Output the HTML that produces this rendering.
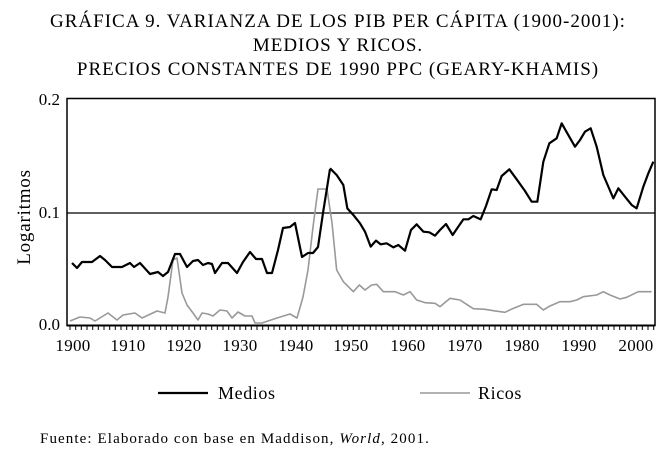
<!DOCTYPE html>
<html><head><meta charset="utf-8"><style>
body{margin:0;background:#fff;}
svg{display:block;font-family:"Liberation Serif",serif;}
</style></head><body>
<svg width="666" height="451" viewBox="0 0 666 451">
<g font-size="19" text-anchor="middle" letter-spacing="1">
<text x="338" y="27">GRÁFICA 9. VARIANZA DE LOS PIB PER CÁPITA (1900-2001):</text>
<text x="338" y="51">MEDIOS Y RICOS.</text>
<text x="338" y="75">PRECIOS CONSTANTES DE 1990 PPC (GEARY-KHAMIS)</text>
</g>
<text x="30" y="217" font-size="19" letter-spacing="0.8" text-anchor="middle" transform="rotate(-90 30 217)">Logaritmos</text>
<g font-size="17" text-anchor="end">
<text x="60" y="105">0.2</text>
<text x="60" y="218">0.1</text>
<text x="60" y="330">0.0</text>
</g>
<rect x="67" y="98.5" width="588" height="227" fill="none" stroke="#000" stroke-width="1.5"/>
<line x1="67" y1="213" x2="655" y2="213" stroke="#000" stroke-width="1.2"/>
<line x1="67" y1="325.5" x2="655" y2="325.5" stroke="#000" stroke-width="2"/>
<g stroke="#000" stroke-width="1">
<path d="M70 325v5M75.7 325v5M81.3 325v5M87 325v5M92.7 325v5M98.3 325v5M104 325v5M109.7 325v5M115.3 325v5M121 325v5M126.7 325v5M132.3 325v5M138 325v5M143.7 325v5M149.3 325v5M155 325v5M160.7 325v5M166.3 325v5M172 325v5M177.7 325v5M183.3 325v5M189 325v5M194.7 325v5M200.3 325v5M206 325v5M211.7 325v5M217.3 325v5M223 325v5M228.7 325v5M234.3 325v5M240 325v5M245.7 325v5M251.3 325v5M257 325v5M262.7 325v5M268.3 325v5M274 325v5M279.7 325v5M285.3 325v5M291 325v5M296.7 325v5M302.3 325v5M308 325v5M313.7 325v5M319.3 325v5M325 325v5M330.7 325v5M336.3 325v5M342 325v5M347.7 325v5M353.3 325v5M359 325v5M364.7 325v5M370.3 325v5M376 325v5M381.7 325v5M387.3 325v5M393 325v5M398.7 325v5M404.3 325v5M410 325v5M415.7 325v5M421.3 325v5M427 325v5M432.7 325v5M438.3 325v5M444 325v5M449.7 325v5M455.3 325v5M461 325v5M466.7 325v5M472.3 325v5M478 325v5M483.7 325v5M489.3 325v5M495 325v5M500.7 325v5M506.3 325v5M512 325v5M517.7 325v5M523.3 325v5M529 325v5M534.7 325v5M540.3 325v5M546 325v5M551.7 325v5M557.3 325v5M563 325v5M568.7 325v5M574.3 325v5M580 325v5M585.7 325v5M591.3 325v5M597 325v5M602.7 325v5M608.3 325v5M614 325v5M619.7 325v5M625.3 325v5M631 325v5M636.7 325v5M642.3 325v5M648 325v5M653.7 325v5"/>
</g>
<g font-size="17" text-anchor="middle" letter-spacing="0.3">
<text x="73" y="351">1900</text><text x="128" y="351">1910</text><text x="184" y="351">1920</text><text x="240" y="351">1930</text><text x="296" y="351">1940</text><text x="351" y="351">1950</text><text x="408" y="351">1960</text><text x="465" y="351">1970</text><text x="522" y="351">1980</text><text x="579" y="351">1990</text><text x="636" y="351">2000</text>
</g>
<g fill="none" stroke-linejoin="round">
<polyline stroke="#999" stroke-width="1.6" points="70,321 80,317 90,318 95,321 108,313 117,320 123,315 135,313 142,318 157,311 165,313 168,297 173,260 177,258 182,293 187,305 193,313 198,320 202,313 208,314 213,316 220,310 227,311 232,318 238,312 245,316 252,316 255,323 262,323 277,318 290,314 297,318 303,297 308,270 313,227 318,189 327,189 332,223"/>
<polyline stroke="#000" stroke-width="2.2" points="72,263 77,268 82,262 92,262 100,256 105,260 112,267 122,267 130,263 134,267 140,263 150,274 158,272 163,276 168,272 175,254 180,254 187,267 193,261 198,260 203,265 208,263 212,264 215,273 222,263 228,263 237,273 243,262 250,252 256,259 262,259 267,273 272,273 278,250 283,228 290,227 295,223 302,257 308,253 313,253 318,247 323,213 330,169"/>
</g>
<g transform="translate(330,90) scale(0.33333)" fill="none" stroke-linejoin="round">
<polyline vector-effect="non-scaling-stroke" stroke="#999" stroke-width="1.6" points="6,399 20,540 40,575 70,605 88,585 105,600 125,585 140,583 160,605 195,605 220,615 240,605 260,630 285,638 315,640 330,650 360,625 390,630 405,640 430,656 465,658 490,662 525,667 550,655 580,643 620,643 640,660 660,648 690,635 720,635 740,630 760,620 800,615 820,605 840,615 870,627 890,622 925,605 965,605"/>
<polyline vector-effect="non-scaling-stroke" stroke="#000" stroke-width="2.2" points="0,235 20,255 40,285 52,355 70,375 90,400 105,425 122,470 138,452 152,463 170,460 190,472 205,465 225,482 243,420 260,403 280,425 298,427 315,437 330,420 348,402 368,435 385,410 400,388 415,388 430,378 452,388 468,348 485,298 500,300 515,258 538,238 560,268 585,303 605,335 622,335 640,215 658,160 680,145 695,100 712,130 735,170 750,150 765,125 782,115 800,170 820,255 850,325 865,295 885,320 905,345 920,355 940,290 955,250 970,215"/>
</g>
<line x1="158" y1="393" x2="208" y2="393" stroke="#000" stroke-width="2.2"/>
<text x="218" y="399" font-size="18" letter-spacing="0.6">Medios</text>
<line x1="420" y1="393" x2="470" y2="393" stroke="#999" stroke-width="1.6"/>
<text x="478" y="399" font-size="18" letter-spacing="0.6">Ricos</text>
<text x="40" y="443" font-size="15" letter-spacing="1.1">Fuente: Elaborado con base en Maddison, <tspan font-style="italic">World</tspan>, 2001.</text>
</svg>
</body></html>
